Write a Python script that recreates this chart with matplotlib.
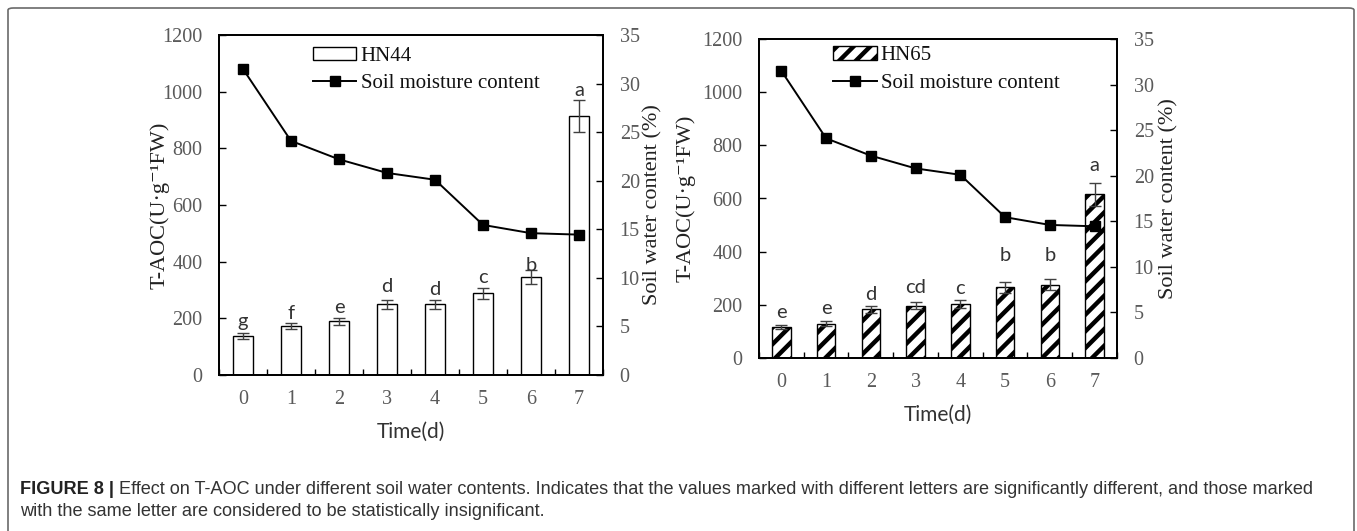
import matplotlib
matplotlib.use("Agg")
import matplotlib.pyplot as plt
import numpy as np
from matplotlib.patches import FancyBboxPatch, Patch
from matplotlib.lines import Line2D

# ---------------- data ----------------
days = [0, 1, 2, 3, 4, 5, 6, 7]
soil_moisture = [31.5, 24.1, 22.2, 20.8, 20.1, 15.45, 14.6, 14.45]

hn44_taoc = [139, 174, 189, 250, 250, 288, 347, 913]
hn44_err = [11, 11, 12, 16, 16, 18, 25, 56]
hn44_letters = ["g", "f", "e", "d", "d", "c", "b", "a"]
hn44_letter_y = [188, 218, 239, 312, 302, 343, 388, 1003]

hn65_taoc = [117, 129, 183, 197, 202, 266, 276, 616]
hn65_err = [9, 9, 13, 14, 15, 20, 21, 43]
hn65_letters = ["e", "e", "d", "cd", "c", "b", "b", "a"]
hn65_letter_y = [173, 186, 240, 267, 261, 386, 386, 725]

left_ticks = [0, 200, 400, 600, 800, 1000, 1200]
right_ticks = [0, 5, 10, 15, 20, 25, 30, 35]

caption_bold = "FIGURE 8 |"
caption_line1 = (" Effect on T-AOC under different soil water contents. Indicates that the values marked "
                 "with different letters are significantly different, and those marked")
caption_line2 = "with the same letter are considered to be statistically insignificant."

# ---------------- style ----------------
W, H = 1357, 531
fig = plt.figure(figsize=(W / 100, H / 100), dpi=100)
plt.rcParams['hatch.linewidth'] = 3.2

SERIF = ['Liberation Serif', 'DejaVu Serif']
SANS = ['Lato', 'DejaVu Sans']
TICKC = '#5a5a5a'

def px(x0, y0, x1, y1):
    return [x0 / W, 1 - y1 / H, (x1 - x0) / W, (y1 - y0) / H]

# outer border
border = FancyBboxPatch((8 / W, -10 / H), (1346 / W), (523 + 10) / H,
                        boxstyle="round,pad=0,rounding_size=0.004",
                        transform=fig.transFigure, fill=False,
                        edgecolor='#6a6a6a', linewidth=1.2)
fig.patches.append(border)


def panel(rect, vals, errs, letters, letter_y, hatch, name,
          ylab_left_x, ylab_right_x, leg_x, leg_y, time_pad):
    ax = fig.add_axes(rect)
    x = np.array(days)
    ax.bar(x, vals, width=0.41, color='white', edgecolor='black',
           linewidth=1.0, hatch=hatch, zorder=2)
    ax.errorbar(x, vals, yerr=errs, fmt='none', ecolor='#404040',
                elinewidth=1.0, capsize=4, capthick=1.0, zorder=3)
    for xi, lt, ly in zip(x, letters, letter_y):
        ax.text(xi, ly, lt, ha='center', va='center', fontsize=14.5,
                family=SANS, color='#333333', zorder=4)
    ax.set_xlim(-0.5, 7.5)
    ax.set_ylim(0, 1200)
    ax.set_yticks(left_ticks)
    ax.set_xticks(x)
    ax.set_xticks(np.arange(-0.5, 8, 1.0), minor=True)
    ax.tick_params(axis='x', which='major', length=0, pad=11,
                   labelsize=14.5, labelcolor=TICKC)
    ax.tick_params(axis='x', which='minor', direction='in', length=4, width=1)
    ax.tick_params(axis='y', direction='in', length=5, width=1,
                   labelsize=14.5, labelcolor=TICKC, pad=12)
    for lab in ax.get_xticklabels() + ax.get_yticklabels():
        lab.set_family(SERIF)
    ax.set_xlabel("Time(d)", fontsize=15, family=SANS, color='#333333',
                  labelpad=time_pad)
    ax.set_ylabel("T-AOC(U·g\u207b\u00b9FW)", fontsize=16, family=SERIF,
                  color='#222222')
    ax.yaxis.set_label_coords(ylab_left_x, 0.5)
    for sp in ax.spines.values():
        sp.set_linewidth(1.3)
        sp.set_color('black')

    ax2 = ax.twinx()
    ax2.plot(x, soil_moisture, color='black', linewidth=1.4, marker='s',
             markersize=7, markerfacecolor='black', zorder=5)
    ax2.set_ylim(0, 35)
    ax2.set_yticks(right_ticks)
    ax2.tick_params(axis='y', direction='in', length=5, width=1,
                    labelsize=14.5, labelcolor=TICKC, pad=12)
    for lab in ax2.get_yticklabels():
        lab.set_family(SERIF)
    ax2.set_ylabel("Soil water content (%)", fontsize=16, family=SERIF,
                   color='#222222')
    ax2.yaxis.set_label_coords(ylab_right_x, 0.5)
    for sp in ax2.spines.values():
        sp.set_linewidth(1.3)

    handles = [Patch(facecolor='white', edgecolor='black', hatch=hatch,
                     linewidth=1.0),
               Line2D([], [], color='black', linewidth=1.4, marker='s',
                      markersize=7)]
    leg = ax2.legend(handles, [name, "Soil moisture content"],
                     loc='upper left', bbox_to_anchor=(leg_x, leg_y),
                     frameon=False, handlelength=2.1, handleheight=0.6,
                     handletextpad=0.2, labelspacing=0.4,
                     prop={'family': SERIF, 'size': 15})
    for t in leg.get_texts():
        t.set_color('#111111')
    return ax, ax2


panel(px(219, 35, 603, 375), hn44_taoc, hn44_err, hn44_letters,
      hn44_letter_y, None, "HN44", -0.130, 1.106, 0.195, 1.02, 9)
panel(px(759, 39, 1117, 358), hn65_taoc, hn65_err, hn65_letters,
      hn65_letter_y, '//', "HN65", -0.176, 1.117, 0.154, 1.036, 9)

# caption
CAP = ['Liberation Sans Narrow', 'Liberation Sans', 'DejaVu Sans']
fig.canvas.draw()
r = fig.canvas.get_renderer()
cap_fs = 13.1
tb = fig.text(20 / W, 1 - 490 / H, caption_bold, fontsize=cap_fs,
              fontweight='bold', family=CAP, color='#222222', va='center')
bb = tb.get_window_extent(r)
t1 = fig.text(bb.x1 / W, 1 - 490 / H, caption_line1, fontsize=cap_fs,
              family=CAP, color='#333333', va='center')
t2 = fig.text(20 / W, 1 - 512 / H, caption_line2, fontsize=cap_fs,
              family=CAP, color='#333333', va='center')

fig.savefig("out.png", dpi=100)
